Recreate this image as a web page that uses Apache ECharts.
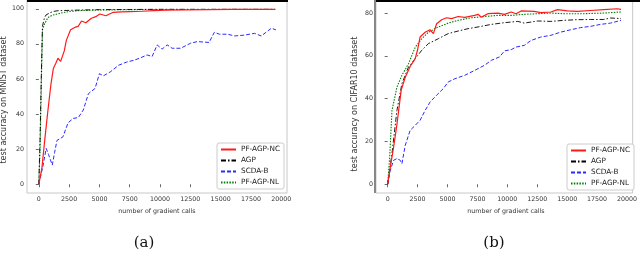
<!DOCTYPE html>
<html>
<head>
<meta charset="utf-8">
<script src="https://cdn.jsdelivr.net/npm/echarts@6/dist/echarts.min.js"></script>
<style>html,body{margin:0;padding:0;background:#fff}#c{width:640px;height:254px}</style>
</head>
<body>
<div id="c"></div>
<script>
const seriesNames = ['PF-AGP-NC', 'AGP', 'SCDA-B', 'PF-AGP-NL'];
const xTicks = [0, 2500, 5000, 7500, 10000, 12500, 15000, 17500, 20000];
const yTicksA = [0, 20, 40, 60, 80, 100];
const yTicksB = [0, 20, 40, 60, 80];

// (a) MNIST
const mnistNC = [[0,0],[250,9],[500,26],[750,42],[1000,57],[1200,66],[1400,69],[1580,71.8],[1800,70],[1940,69],[2100,76],[2270,82],[2620,88],[3000,89.5],[3250,90],[3520,93],[3880,92],[4340,94.6],[4700,95.5],[5030,97],[5530,96],[6140,98],[6800,98.2],[7500,98.4],[8500,98.6],[9500,99],[10500,99.2],[12000,99.3],[14000,99.5],[16000,99.6],[19500,99.7]];
const mnistAGP = [[0,0],[100,25],[200,60],[300,90],[470,95],[600,96.5],[890,97.6],[1200,98.5],[1600,98.9],[2500,99.1],[3500,99.3],[5000,99.5],[7500,99.6],[10000,99.7],[15000,99.7],[19500,99.7]];
const mnistSCDA = [[0,0],[330,10],[610,20.4],[800,17],[1110,10.9],[1300,18],[1500,25],[1990,27],[2410,35],[2840,37.5],[3260,38],[3670,42.3],[4090,51.6],[4640,54.6],[5000,63],[5330,61.8],[5890,64],[6580,67.8],[7270,69.7],[7830,70.6],[8380,72],[8930,73.7],[9350,72.8],[9760,79.4],[10170,77],[10590,79.4],[11000,77.5],[11700,77.5],[12530,80.4],[13080,81.3],[14050,80.8],[14480,86.6],[14900,85.5],[15590,85.5],[16140,84.5],[16970,85],[17800,86],[18350,84.5],[19180,88.9],[19560,88]];
const mnistNL = [[0,0],[100,20],[200,55],[300,88],[450,91],[750,95],[1100,96.3],[1500,97],[2000,97.8],[2550,98.5],[3500,99],[5000,99.3],[7500,99.5],[10000,99.6],[15000,99.6],[19500,99.6]];

// (b) CIFAR10
const cifarNC = [[0,0],[220,8],[500,17.4],[775,28],[1130,44],[1470,50],[1880,55],[2300,58.7],[2490,62.6],[2710,68.8],[3130,71],[3540,72.2],[3820,70.4],[4090,75],[4510,76.9],[4920,77.8],[5340,77.4],[5890,78.4],[6440,78],[7270,78.9],[7550,79.4],[7830,78.1],[8380,79.7],[9210,80],[9760,79.4],[10320,80.5],[10730,79.7],[11150,81],[12250,80.8],[12800,80.2],[13640,80.5],[14190,81.6],[15020,81],[15850,80.8],[16960,81.2],[18060,81.6],[19170,82],[19500,81.7]];
const cifarAGP = [[0,0],[360,14.3],[775,34.5],[1190,47],[1740,54.8],[2300,58.7],[2850,62.6],[3400,65.7],[4230,68],[5060,70.4],[5890,71.6],[6720,72.7],[7550,73.5],[8660,74.7],[9760,75.5],[10870,76.1],[11420,75.3],[12530,76.3],[13640,76.1],[14740,76.6],[15850,76.9],[16960,77],[18060,77],[18620,77.7],[19500,77.4]];
const cifarSCDA = [[0,0],[220,6.5],[500,11.2],[775,12],[1050,11.2],[1190,9.6],[1470,18.2],[1880,25.2],[2300,27.5],[2710,29.9],[3130,34.5],[3540,38.4],[4090,41.6],[4650,44.7],[5060,47.8],[5620,49.3],[6440,50.9],[7270,53.2],[8100,55.6],[8660,57.9],[9350,59.5],[9760,62.3],[10320,62.9],[10730,64.1],[11420,64.9],[11980,67.2],[12800,68.8],[13640,69.6],[14470,71.1],[15300,72.2],[16130,73.2],[16960,73.8],[17790,74.7],[18620,75.3],[19500,76.6]];
const cifarNL = [[0,0],[170,12.8],[360,34.5],[775,45.4],[1190,50.9],[1740,56.3],[2300,64],[2850,68],[3400,71],[4230,73.5],[5060,75.3],[5890,76.6],[7000,77.8],[8100,78.4],[9210,78.9],[10320,78.9],[11420,79.4],[12530,79.7],[13640,80],[14740,79.7],[16410,79.7],[18060,80],[19500,80.5]];

const styles = [
  {color:'#ff1a1a', width:1.2, type:'solid'},
  {color:'#000000', width:0.9, type:[5,2,1.5,2]},
  {color:'#2a2aff', width:1, type:[4,2]},
  {color:'#008000', width:1.1, type:[1.5,1.3]}
];

const chart = echarts.init(document.getElementById('c'), null, {renderer:'canvas'});
const tickFont = {fontSize:6.3, color:'#333', fontFamily:'DejaVu Sans', formatter:function(v){return String(v);}};
function xAxis(idx){
  return {type:'value', gridIndex:idx, min:-975, max:20475,
    axisLine:{show:false}, splitLine:{show:false},
    axisTick:{show:true, length:3, customValues:xTicks, lineStyle:{color:'#444', width:0.8}},
    axisLabel:Object.assign({customValues:xTicks, margin:3}, tickFont)};
}
function yAxis(idx, mn, mx, ticks){
  return {type:'value', gridIndex:idx, min:mn, max:mx,
    axisLine:{show:false}, splitLine:{show:false},
    axisTick:{show:true, length:3, customValues:ticks, lineStyle:{color:'#444', width:0.8}},
    axisLabel:Object.assign({customValues:ticks, margin:3}, tickFont)};
}
function mk(name, data, idx, k){
  const s = styles[k];
  return {name:name, type:'line', xAxisIndex:idx, yAxisIndex:idx, data:data,
    symbol:'none', showSymbol:false, animation:false, z: 2 + (3-k),
    lineStyle:{color:s.color, width:s.width, type:s.type}, itemStyle:{color:s.color}};
}
const legendBase = {orient:'vertical', itemWidth:15, itemHeight:7, itemGap:4,
  padding:[3,4,3,3], borderColor:'#ccc', borderWidth:1, borderRadius:2, backgroundColor:'#fff',
  itemStyle:{opacity:0},
  textStyle:{fontSize:7.3, color:'#222', fontFamily:'DejaVu Sans'}, data:seriesNames};

chart.setOption({
  animation:false,
  grid:[
    {left:27, top:0, width:260, height:193, show:true, borderColor:'#c8c8c8', borderWidth:1},
    {left:376, top:0, width:259, height:193, show:true, borderColor:'#c8c8c8', borderWidth:1}
  ],
  xAxis:[xAxis(0), xAxis(1)],
  yAxis:[yAxis(0,-5,105,yTicksA), yAxis(1,-4.1,86.1,yTicksB)],
  legend:[
    Object.assign({left:217, top:143}, legendBase),
    Object.assign({left:567, top:144}, legendBase)
  ],
  series:[
    mk('PF-AGP-NC', mnistNC, 0, 0), mk('AGP', mnistAGP, 0, 1), mk('SCDA-B', mnistSCDA, 0, 2), mk('PF-AGP-NL', mnistNL, 0, 3),
    mk('PF-AGP-NC', cifarNC, 1, 0), mk('AGP', cifarAGP, 1, 1), mk('SCDA-B', cifarSCDA, 1, 2), mk('PF-AGP-NL', cifarNL, 1, 3)
  ],
  graphic:[
    {type:'rect', shape:{x:27, y:0, width:261, height:2}, style:{fill:'#000'}, z:100},
    {type:'rect', shape:{x:376, y:0, width:264, height:2}, style:{fill:'#000'}, z:100},
    {type:'rect', shape:{x:374, y:0, width:2, height:193}, style:{fill:'#888'}, z:100},
    {type:'text', x:4, y:100, rotation:Math.PI/2, style:{text:'test accuracy on MNIST dataset', fontSize:8, fill:'#333', fontFamily:'DejaVu Sans', align:'center', verticalAlign:'middle'}},
    {type:'text', x:355, y:104, rotation:Math.PI/2, style:{text:'test accuracy on CIFAR10 dataset', fontSize:8, fill:'#333', fontFamily:'DejaVu Sans', align:'center', verticalAlign:'middle'}},
    {type:'text', x:157, y:211, style:{text:'number of gradient calls', fontSize:6.3, fill:'#333', fontFamily:'DejaVu Sans', align:'center', verticalAlign:'middle'}},
    {type:'text', x:506, y:211, style:{text:'number of gradient calls', fontSize:6.3, fill:'#333', fontFamily:'DejaVu Sans', align:'center', verticalAlign:'middle'}},
    {type:'text', x:144, y:243, style:{text:'(a)', fontSize:15, fill:'#111', fontFamily:'DejaVu Serif', align:'center', verticalAlign:'middle'}},
    {type:'text', x:494, y:243, style:{text:'(b)', fontSize:15, fill:'#111', fontFamily:'DejaVu Serif', align:'center', verticalAlign:'middle'}}
  ]
});
</script>
</body>
</html>
